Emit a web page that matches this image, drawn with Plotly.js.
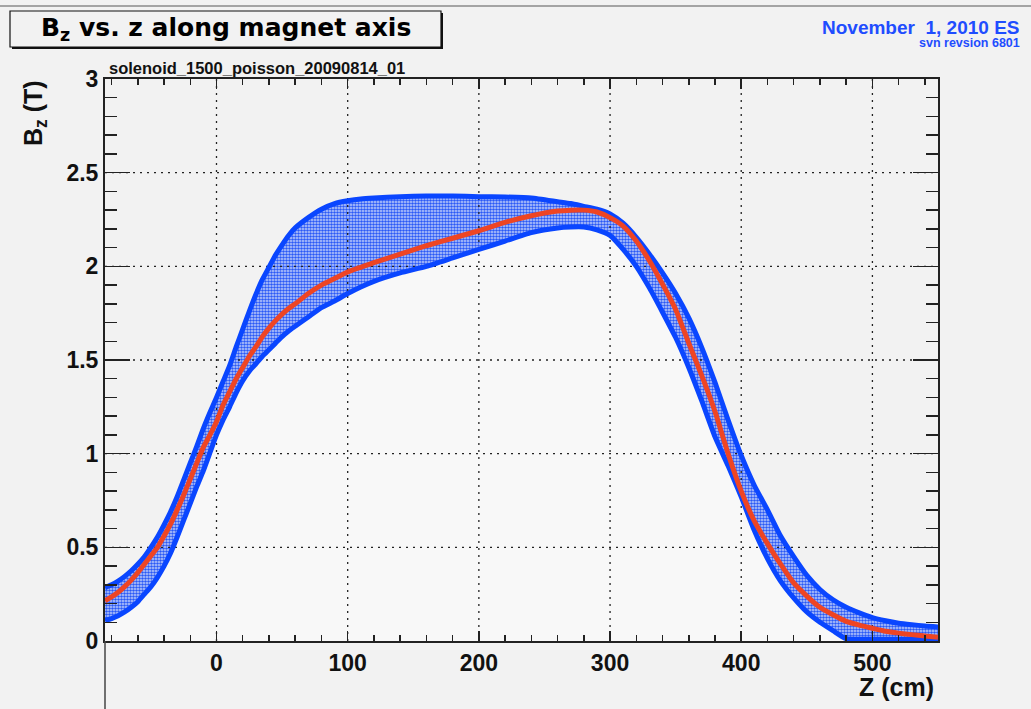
<!DOCTYPE html>
<html>
<head>
<meta charset="utf-8">
<script src="https://cdn.plot.ly/plotly-3.0.1.min.js"></script>
<style>
html,body{margin:0;padding:0;background:#f2f2f2;}
#chart{width:1031px;height:709px;}
</style>
</head>
<body>
<div id="chart"></div>
<script>
// ---- data ----
const zValues = [-85,-80,-75,-70,-65,-60,-55,-50,-45,-40,
  -35,-30,-25,-20,-15,-10,-5,0,5,10,
  15,20,25,30,35,40,45,50,55,60,
  70,80,90,100,110,120,140,160,180,200,
  220,240,260,270,280,290,300,310,320,330,
  340,350,360,370,380,390,400,410,420,430,
  440,450,460,470,480,490,500,510,520,530,
  540,550];

const bzCentral = [0.215,0.235,0.26,0.29,0.325,0.365,0.41,0.455,0.50,0.56,
  0.625,0.70,0.78,0.865,0.95,1.035,1.10,1.17,1.26,1.33,
  1.40,1.46,1.52,1.57,1.625,1.67,1.71,1.745,1.775,1.80,
  1.855,1.90,1.935,1.97,1.995,2.02,2.065,2.11,2.15,2.19,
  2.235,2.27,2.295,2.30,2.30,2.29,2.26,2.215,2.135,2.03,
  1.905,1.77,1.59,1.415,1.225,1.00,0.80,0.64,0.52,0.41,
  0.31,0.24,0.18,0.14,0.105,0.085,0.068,0.052,0.042,0.034,
  0.027,0.02];

const bzUpper = [0.285,0.30,0.32,0.345,0.375,0.41,0.45,0.50,0.555,0.62,
  0.69,0.77,0.86,0.95,1.04,1.135,1.22,1.30,1.385,1.47,
  1.57,1.665,1.76,1.85,1.93,1.995,2.06,2.115,2.165,2.205,
  2.26,2.305,2.335,2.35,2.36,2.365,2.372,2.375,2.375,2.372,
  2.37,2.365,2.345,2.335,2.32,2.305,2.28,2.23,2.155,2.065,
  1.965,1.855,1.725,1.565,1.38,1.18,0.99,0.83,0.70,0.56,
  0.45,0.35,0.275,0.22,0.18,0.15,0.125,0.108,0.095,0.087,
  0.08,0.075];

const bzLower = [0.11,0.12,0.135,0.155,0.18,0.21,0.25,0.29,0.34,0.40,
  0.47,0.555,0.645,0.735,0.825,0.91,1.005,1.10,1.18,1.25,
  1.325,1.39,1.44,1.48,1.52,1.555,1.59,1.625,1.655,1.68,
  1.73,1.78,1.815,1.855,1.89,1.92,1.965,2.0,2.045,2.09,
  2.135,2.18,2.205,2.21,2.21,2.195,2.165,2.09,2.0,1.885,
  1.755,1.62,1.46,1.28,1.09,0.935,0.77,0.59,0.44,0.32,
  0.23,0.155,0.10,0.055,0.012,0.01,0.01,0.01,0.01,0.01,
  0.01,0.01];

const xRange = [-85, 550];
const yRange = [0, 3];
const xTicks = [0, 100, 200, 300, 400, 500];
const yTicks = [0.5, 1, 1.5, 2, 2.5];

const titleText = 'B<sub>z</sub> vs. z along magnet axis';
const subTitle = 'solenoid_1500_poisson_20090814_01';
const dateText = 'November\u00a0\u00a01, 2010 ES';
const svnText = 'svn revsion 6801';
const xTitle = 'Z (cm)';
const yTitle = 'B<sub>z</sub> (T)';

// ---- styles ----
const FONT = 'Liberation Sans, Arial, Helvetica, sans-serif';
const WIDEFONT = 'DejaVu Sans, Liberation Sans, sans-serif';
const BLUE = '#0a46ff';
const RED = '#ee4524';
const SH = {shape: 'spline', smoothing: 0.5};

// grid built from tick arrays
const gx = [], gy = [];
xTicks.forEach(t => { gx.push(t, t, null); gy.push(yRange[0], yRange[1], null); });
yTicks.forEach(t => { gx.push(xRange[0], xRange[1], null); gy.push(t, t, null); });

const traces = [
  {x: zValues, y: bzLower, type: 'scatter', mode: 'lines', line: Object.assign({width: 0, color: 'rgba(0,0,0,0)'}, SH),
   fill: 'tozeroy', fillcolor: '#f8f8f8', hoverinfo: 'skip', showlegend: false},
  {x: zValues, y: bzUpper, type: 'scatter', mode: 'lines', line: Object.assign({width: 0, color: 'rgba(0,0,0,0)'}, SH),
   fill: 'tonexty', fillcolor: '#7d98f4',
   fillpattern: {shape: '.', bgcolor: '#c4d1fb', fgcolor: '#2a59f6', size: 3, solidity: 0.55},
   hoverinfo: 'skip', showlegend: false},
  {x: gx, y: gy, type: 'scatter', mode: 'lines', line: {width: 1.3, color: '#222', dash: '2px,5px'},
   hoverinfo: 'skip', showlegend: false},
  {x: zValues, y: bzUpper, type: 'scatter', mode: 'lines', line: Object.assign({width: 5, color: BLUE}, SH),
   hoverinfo: 'skip', showlegend: false},
  {x: zValues, y: bzLower, type: 'scatter', mode: 'lines', line: Object.assign({width: 5, color: BLUE}, SH),
   hoverinfo: 'skip', showlegend: false},
  {x: zValues, y: bzCentral, type: 'scatter', mode: 'lines', line: Object.assign({width: 5, color: RED}, SH),
   hoverinfo: 'skip', showlegend: false}
];

const L = 105, R = 93, T = 79, B = 68, W = 1031, H = 709;
const PW = W - L - R, PH = H - T - B;
const px = v => (v - L) / PW;           // pixel x -> paper
const py = v => (H - B - v) / PH;       // pixel y -> paper

const tickFont = {family: FONT, size: 23, color: '#111', weight: 'bold'};

const layout = {
  width: W, height: H,
  margin: {l: L, r: R, t: T, b: B, pad: 0},
  paper_bgcolor: '#f2f2f2',
  plot_bgcolor: '#f2f2f2',
  showlegend: false,
  xaxis: {
    range: xRange, tick0: 0, dtick: 100, ticks: 'inside', ticklen: 10, tickwidth: 1.5, tickcolor: '#222',
    showline: true, linecolor: '#222', linewidth: 2, mirror: 'allticks',
    showgrid: false, zeroline: false, tickfont: tickFont,
    minor: {ticks: 'inside', ticklen: 6, tickwidth: 1.5, tickcolor: '#222', dtick: 20, showgrid: false}
  },
  yaxis: {
    range: yRange, tick0: 0, dtick: 0.5, ticks: 'inside', ticklen: 25, tickwidth: 1.5, tickcolor: '#222',
    showline: true, linecolor: '#222', linewidth: 2, mirror: 'allticks',
    showgrid: false, zeroline: false, tickfont: tickFont,
    minor: {ticks: 'inside', ticklen: 12, tickwidth: 1.5, tickcolor: '#222', dtick: 0.1, showgrid: false}
  },
  shapes: [
    {type: 'line', xref: 'paper', yref: 'paper', x0: px(0), x1: px(W), y0: py(6), y1: py(6),
     line: {color: '#a4a4a4', width: 2}},
    {type: 'rect', xref: 'paper', yref: 'paper', x0: px(12), x1: px(443), y0: py(49), y1: py(13),
     fillcolor: '#111', line: {width: 0}},
    {type: 'rect', xref: 'paper', yref: 'paper', x0: px(10), x1: px(441), y0: py(47), y1: py(11),
     fillcolor: '#f2f2f2', line: {color: '#111', width: 1.2}},
    {type: 'line', xref: 'paper', yref: 'paper', x0: 0, x1: 0, y0: 0, y1: py(H),
     line: {color: '#444', width: 1.5}}
  ],
  annotations: [
    {text: titleText, xref: 'paper', yref: 'paper', x: px(226), y: py(29), xanchor: 'center', yanchor: 'middle',
     showarrow: false, font: {family: WIDEFONT, size: 25, color: '#000', weight: 'bold'}},
    {text: subTitle, xref: 'paper', yref: 'paper', x: px(107), y: py(68), xanchor: 'left', yanchor: 'middle',
     showarrow: false, font: {family: FONT, size: 16.5, color: '#111', weight: 'bold'}},
    {text: dateText, xref: 'paper', yref: 'paper', x: px(1022), y: py(27), xanchor: 'right', yanchor: 'middle',
     showarrow: false, font: {family: FONT, size: 19, color: '#1f4dff', weight: 'bold'}},
    {text: svnText, xref: 'paper', yref: 'paper', x: px(1022), y: py(43.5), xanchor: 'right', yanchor: 'middle',
     showarrow: false, font: {family: FONT, size: 12.5, color: '#1f4dff', weight: 'bold'}},
    {text: xTitle, xref: 'paper', yref: 'paper', x: px(936), y: py(687), xanchor: 'right', yanchor: 'middle',
     showarrow: false, font: {family: FONT, size: 25, color: '#111', weight: 'bold'}},
    {text: yTitle, xref: 'paper', yref: 'paper', x: px(35), y: py(113), xanchor: 'center', yanchor: 'middle',
     textangle: -90, showarrow: false, font: {family: FONT, size: 25, color: '#111', weight: 'bold'}}
  ]
};

Plotly.newPlot('chart', traces, layout, {staticPlot: true, displayModeBar: false});
</script>
</body>
</html>
